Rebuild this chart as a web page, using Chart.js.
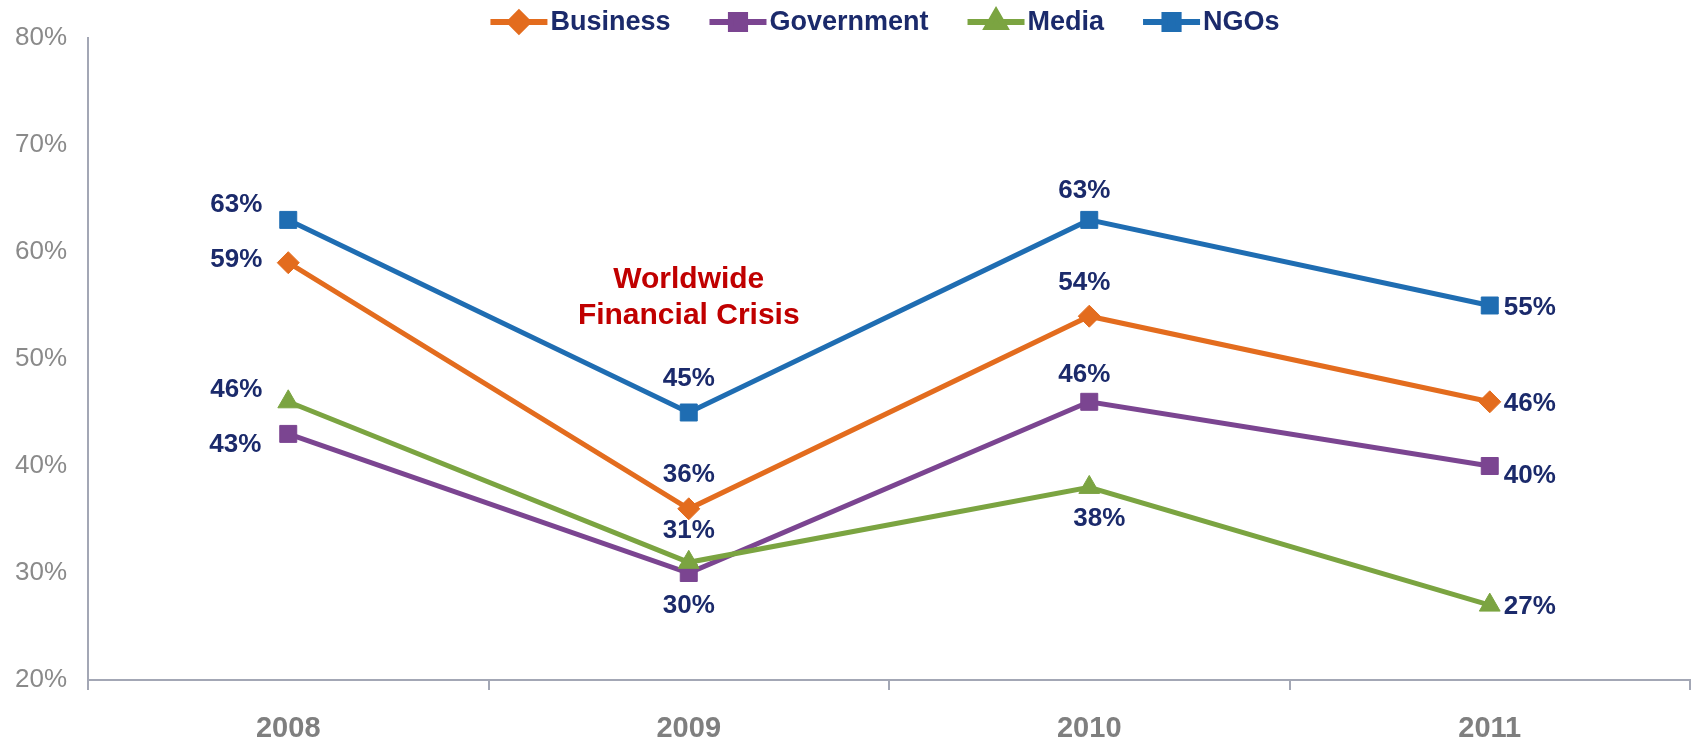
<!DOCTYPE html>
<html>
<head>
<meta charset="utf-8">
<script src="https://cdn.jsdelivr.net/npm/chart.js@4.4.0/dist/chart.umd.min.js"></script>
<style>
    html, body { margin: 0; padding: 0; background: #fff; }
    #wrap { width: 1691px; height: 749px; position: relative; }
</style>
</head>
<body>
<div id="wrap"><canvas id="trustChart"></canvas></div>
<script>
// --- data ---
const years = ['2008', '2009', '2010', '2011'];
const business = [59, 36, 54, 46];
const government = [43, 30, 46, 40];
const media = [46, 31, 38, 27];
const ngos = [63, 45, 63, 55];
const yMin = 20;
const yMax = 80;
const yStep = 10;
const crisisNote = ['Worldwide', 'Financial Crisis'];

// label placement (pixel nudges from each point), one row per series
const labelOffsets = [
    [[-52, -3], [0, -34], [-5, -33], [40, 2]],   // Business
    [[-53, 11], [0, 33], [-5, -27], [40, 10]],   // Government
    [[-52, -12], [0, -31], [10, 31], [40, 2]],   // Media
    [[-52, -15], [0, -34], [-5, -29], [40, 2]]   // NGOs
];

const NAVY = '#1B2A6B';
const AXIS = '#A3A7B5';

const datasets = [
    { label: 'Business', data: business, borderColor: '#E36C1E', pointStyle: 'rectRot', pointRadius: 11, order: 1 },
    { label: 'Government', data: government, borderColor: '#7B4591', pointStyle: 'rect', pointRadius: 12, order: 2 },
    { label: 'Media', data: media, borderColor: '#7BA441', pointStyle: 'triangle', pointRadius: 12, order: 0 },
    { label: 'NGOs', data: ngos, borderColor: '#1F6DB2', pointStyle: 'rect', pointRadius: 12, order: 3 }
].map(ds => Object.assign(ds, {
    backgroundColor: ds.borderColor,
    borderWidth: 5,
    pointBorderWidth: 1,
    pointBackgroundColor: ds.borderColor,
    pointBorderColor: ds.borderColor,
    tension: 0,
    fill: false
}));

// percentage labels next to each point
const pointLabels = {
    id: 'pointLabels',
    afterDatasetsDraw(chart) {
        const ctx = chart.ctx;
        ctx.save();
        ctx.font = 'bold 26px "Liberation Sans", Arial, sans-serif';
        ctx.fillStyle = NAVY;
        ctx.textAlign = 'center';
        ctx.textBaseline = 'middle';
        chart.data.datasets.forEach((ds, i) => {
            const meta = chart.getDatasetMeta(i);
            meta.data.forEach((pt, j) => {
                const [dx, dy] = labelOffsets[i][j];
                ctx.fillText(ds.data[j] + '%', pt.x + dx, pt.y + dy);
            });
        });
        ctx.restore();
    }
};

// red note over 2009
const crisisLabel = {
    id: 'crisisLabel',
    afterDraw(chart) {
        const ctx = chart.ctx;
        const x = chart.scales.x.getPixelForValue(1);
        const y = chart.scales.y.getPixelForValue(56);
        ctx.save();
        ctx.font = 'bold 30px "Liberation Sans", Arial, sans-serif';
        ctx.fillStyle = '#C00000';
        ctx.textAlign = 'center';
        ctx.textBaseline = 'middle';
        ctx.fillText(crisisNote[0], x, y - 15);
        ctx.fillText(crisisNote[1], x, y + 21);
        ctx.restore();
    }
};

// legend: short line with the marker on it, then the name
const topLegend = {
    id: 'topLegend',
    afterDraw(chart) {
        const ctx = chart.ctx;
        const lineW = 57, gapText = 3, gapItem = 39, y = 22;
        ctx.save();
        ctx.font = 'bold 27px "Liberation Sans", Arial, sans-serif';
        const items = chart.data.datasets.map(ds => ({ ds, tw: ctx.measureText(ds.label).width }));
        const total = items.reduce((s, it) => s + lineW + gapText + it.tw, 0) + gapItem * (items.length - 1);
        let x = (chart.chartArea.left + chart.chartArea.right) / 2 - total / 2 - 4;
        items.forEach(({ ds, tw }) => {
            ctx.strokeStyle = ds.borderColor;
            ctx.fillStyle = ds.borderColor;
            ctx.lineWidth = 6;
            ctx.beginPath();
            ctx.moveTo(x, y);
            ctx.lineTo(x + lineW, y);
            ctx.stroke();
            Chart.helpers.drawPoint(ctx, { pointStyle: ds.pointStyle, radius: ds.pointRadius - 2, borderWidth: 1, rotation: 0 }, x + lineW / 2, y);
            ctx.fillStyle = NAVY;
            ctx.textAlign = 'left';
            ctx.textBaseline = 'middle';
            ctx.fillText(ds.label, x + lineW + gapText, y + 1);
            x += lineW + gapText + tw + gapItem;
        });
        ctx.restore();
    }
};

new Chart(document.getElementById('trustChart').getContext('2d'), {
    type: 'line',
    data: { labels: years, datasets: datasets },
    options: {
        responsive: true,
        maintainAspectRatio: false,
        animation: false,
        layout: { autoPadding: false, padding: { top: 38, right: 1, bottom: 0, left: 0 } },
        plugins: { legend: { display: false }, tooltip: { enabled: false } },
        scales: {
            x: {
                type: 'category',
                offset: true,
                afterFit: scale => {
                    scale.height = 69;
                    scale.paddingLeft = 0;
                    scale.paddingRight = 0;
                },
                grid: { display: true, drawOnChartArea: false, drawTicks: true, tickLength: 10, color: AXIS, lineWidth: 2, offset: true },
                border: { display: true, color: AXIS, width: 2 },
                ticks: { color: '#7F7F7F', font: { family: 'Liberation Sans', size: 29, weight: 'bold' }, padding: 22 }
            },
            y: {
                min: yMin,
                max: yMax,
                afterFit: scale => { scale.width = 88; },
                grid: { display: false, drawTicks: false },
                border: { display: true, color: AXIS, width: 2 },
                ticks: {
                    stepSize: yStep,
                    padding: 21,
                    color: '#8A8A8A',
                    font: { family: 'Liberation Sans', size: 26 },
                    callback: v => v + '%'
                }
            }
        }
    },
    plugins: [pointLabels, crisisLabel, topLegend]
});
</script>
</body>
</html>
